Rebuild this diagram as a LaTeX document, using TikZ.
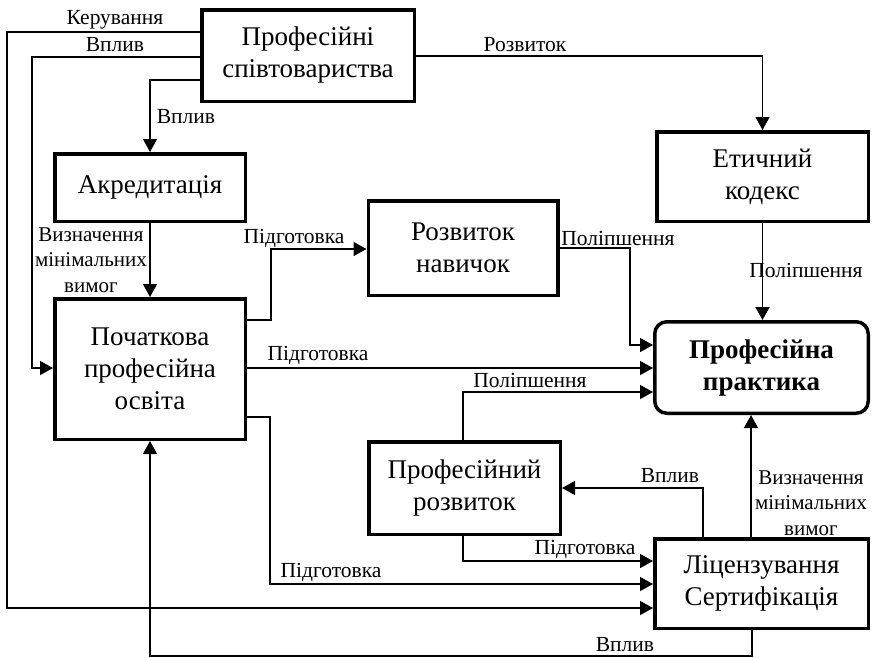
\documentclass[tikz,border=0pt]{standalone}
\usepackage{fontspec}
\setmainfont{Liberation Serif}
\usetikzlibrary{arrows.meta}

\tikzset{
  box/.style={draw, line width=3.5pt, align=center, inner sep=0pt,
    font=\fontsize{27}{32}\selectfont},
  conn/.style={line width=1.4pt},
  arr/.style={conn, -{Triangle[length=13pt,width=14pt]}},
  lbl/.style={font=\fontsize{21.5}{25}\selectfont, inner sep=0pt},
  lblstack/.style={lbl, align=center, font=\fontsize{21}{25.5}\selectfont},
}

\begin{document}
\begin{tikzpicture}[x=1pt,y=-1pt]
\useasboundingbox (0,0) rectangle (872,657);

% boxes
\node[box, minimum width=212.5pt, minimum height=91.5pt] (ps) at (308,55.5) {Професійні\\співтовариства};
\node[box, minimum width=190.5pt, minimum height=67.5pt] (akr) at (150,187.5) {Акредитація};
\node[box, minimum width=190.5pt, minimum height=140.5pt] (ppo) at (150,369) {Початкова\\професійна\\освіта};
\node[box, minimum width=189.5pt, minimum height=94.5pt] (rn) at (463,248) {Розвиток\\навичок};
\node[box, minimum width=211.5pt, minimum height=89.5pt] (ek) at (762.5,176.5) {Етичний\\кодекс};
\node[box, rounded corners=12pt, minimum width=213.5pt, minimum height=91.5pt,
  font=\fontsize{27}{32}\selectfont\bfseries] (pp) at (761.5,367.5) {Професійна\\практика};
\node[box, minimum width=191.5pt, minimum height=92.5pt] (pr) at (464.5,488) {Професійний\\розвиток};
\node[box, minimum width=213.5pt, minimum height=89.5pt] (ls) at (761.5,583.5) {Ліцензування\\Сертифікація};

% connectors from the professional communities
\draw[arr] (ps.west |- 0,32) -| (7,608) -- (ls.west |- 0,608);
\draw[arr] (ps.west |- 0,57) -| (32,368) -- (ppo.west |- 0,368);
\draw[arr] (ps.west |- 0,80) -| (akr.north);
\draw[arr] (ps.east |- 0,56) -| (ek.north);
\node[lbl] (l1) at (115,20) {Керування};
\node[lbl] (l2) at (115,45) {Вплив};
\node[lbl] (l3) at (186,117) {Вплив};
\node[lbl] (l4) at (525,45) {Розвиток};

% accreditation to initial education
\draw[arr] (akr.south) -- (ppo.north);
\node[lblstack] (l5) at (91,260) {Визначення\\мінімальних\\вимог};

% initial education outputs
\draw[arr] (ppo.east |- 0,320) -| (271,249) -- (rn.west |- 0,249);
\node[lbl] (l6) at (294,238) {Підготовка};
\draw[arr] (ppo.east |- 0,368) -- (pp.west |- 0,368);
\node[lbl] (l7) at (318,355) {Підготовка};
\draw[arr] (ppo.east |- 0,417) -| (270,584) -- (ls.west |- 0,584);
\node[lbl] (l8) at (331,572) {Підготовка};

% skills development and ethics code to practice
\draw[arr] (rn.east |- 0,248) -| (630,345) -- (pp.west |- 0,345);
\node[lbl] (l9) at (618,238) {Поліпшення};
\draw[arr] (ek.south) -- (ek.south |- pp.north);
\node[lbl] (l10) at (806,270) {Поліпшення};

% professional development
\draw[arr] (pr.north -| 463,0) |- (pp.west |- 0,392);
\node[lbl] (l11) at (530,380) {Поліпшення};
\draw[arr] (pr.south -| 463,0) |- (ls.west |- 0,561);
\node[lbl] (l12) at (585,549) {Підготовка};

% licensing outputs
\draw[arr] (ls.north -| 703,0) |- (pr.east |- 0,488);
\node[lbl] (l13) at (670,476) {Вплив};
\draw[arr] (ls.north -| 751,0) -- (pp.south -| 751,0);
\node[lblstack] (l14) at (811,503) {Визначення\\мінімальних\\вимог};
\draw[arr] (ls.south -| 752,0) |- (150,656) -- (ppo.south);
\node[lbl] (l15) at (625,645) {Вплив};
\end{tikzpicture}
\end{document}
